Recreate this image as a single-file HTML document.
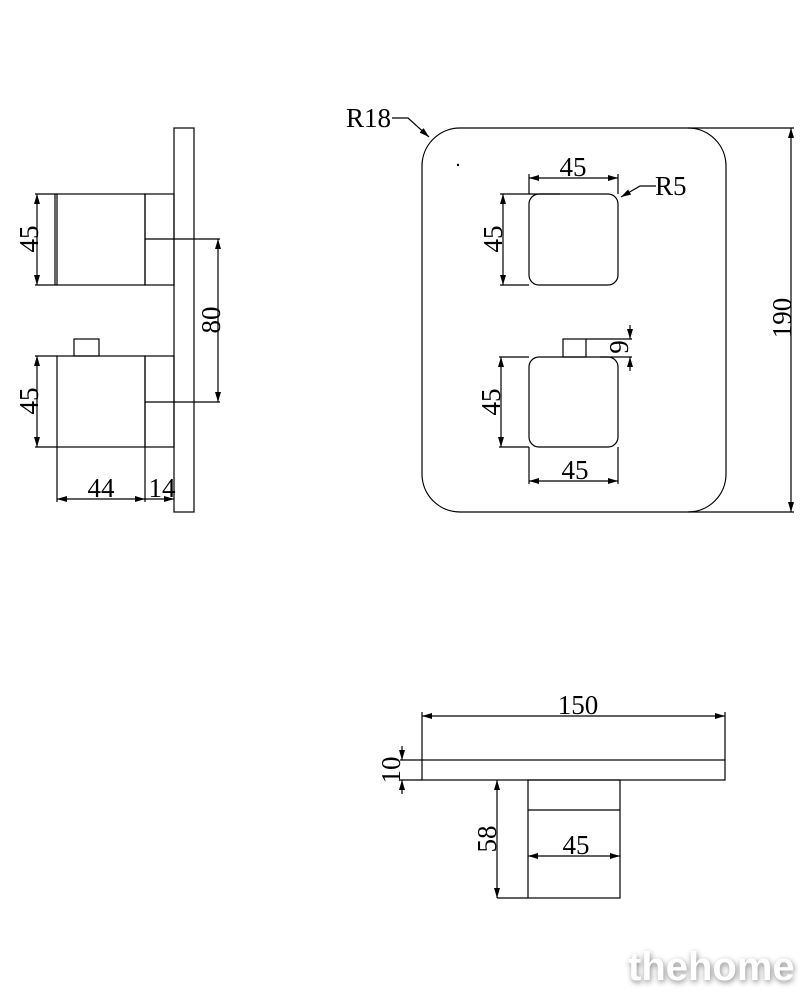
<!DOCTYPE html>
<html><head><meta charset="utf-8"><style>
html,body{margin:0;padding:0;background:#fff;width:811px;height:1000px;overflow:hidden}
svg{display:block}
text{font-family:"Liberation Serif",serif;font-size:27px;fill:#000}
.w{font-family:"Liberation Sans",sans-serif;font-weight:bold;font-size:40px;fill:#fff;filter:drop-shadow(1px 2px 3px #888)}
</style></head><body>
<svg width="811" height="1000" viewBox="0 0 811 1000" xmlns="http://www.w3.org/2000/svg">
<defs>
<marker id="a" viewBox="0 0 10 6" refX="10" refY="3" markerWidth="10" markerHeight="6" orient="auto-start-reverse" markerUnits="userSpaceOnUse"><path d="M0,0L10,3L0,6z" fill="#000"/></marker>
</defs>
<g stroke="#000" stroke-width="1.2" fill="none">
<!-- side view -->
<rect x="174" y="128" width="20" height="384"/>
<rect x="57" y="194" width="88" height="91"/>
<line x1="55" y1="194" x2="55" y2="285"/>
<line x1="35" y1="194" x2="57" y2="194"/><line x1="35" y1="285" x2="57" y2="285"/>
<rect x="145" y="194" width="29" height="91"/>
<rect x="57" y="356" width="88" height="91"/>
<rect x="74" y="339" width="25" height="17"/>
<line x1="35" y1="356" x2="57" y2="356"/><line x1="35" y1="447" x2="57" y2="447"/>
<rect x="145" y="356" width="29" height="91"/>
<line x1="145" y1="239" x2="220" y2="239"/><line x1="145" y1="402" x2="220" y2="402"/>
<line x1="218" y1="239" x2="218" y2="402" marker-start="url(#a)" marker-end="url(#a)"/>
<line x1="37" y1="194" x2="37" y2="285" marker-start="url(#a)" marker-end="url(#a)"/>
<line x1="37" y1="356" x2="37" y2="447" marker-start="url(#a)" marker-end="url(#a)"/>
<line x1="57" y1="447" x2="57" y2="502"/><line x1="145" y1="447" x2="145" y2="502"/>
<line x1="57" y1="499" x2="145" y2="499" marker-start="url(#a)" marker-end="url(#a)"/>
<line x1="145" y1="499" x2="174" y2="499" marker-end="url(#a)"/>
<!-- front view -->
<rect x="422" y="128" width="304" height="384" rx="38"/>
<line x1="688" y1="128" x2="794" y2="128"/><line x1="688" y1="512" x2="794" y2="512"/>
<line x1="791" y1="128" x2="791" y2="512" marker-start="url(#a)" marker-end="url(#a)"/>
<path d="M392,118H408L429,137" marker-end="url(#a)"/>
<rect x="529" y="194" width="89" height="91" rx="10"/>
<line x1="529" y1="194" x2="529" y2="174"/><line x1="618" y1="194" x2="618" y2="174"/>
<line x1="529" y1="178" x2="618" y2="178" marker-start="url(#a)" marker-end="url(#a)"/>
<line x1="500" y1="194" x2="560" y2="194"/><line x1="500" y1="285" x2="529" y2="285"/>
<line x1="503" y1="194" x2="503" y2="285" marker-start="url(#a)" marker-end="url(#a)"/>
<path d="M656,186H640L621,197" marker-end="url(#a)"/>
<rect x="529" y="357" width="89" height="90" rx="10"/>
<rect x="563" y="339" width="23" height="18"/>
<line x1="586" y1="339" x2="632" y2="339"/><line x1="600" y1="357" x2="632" y2="357"/>
<line x1="630" y1="325" x2="630" y2="339" marker-end="url(#a)"/>
<line x1="630" y1="371" x2="630" y2="357" marker-end="url(#a)"/>
<line x1="499" y1="357" x2="529" y2="357"/><line x1="499" y1="447" x2="529" y2="447"/>
<line x1="501" y1="357" x2="501" y2="447" marker-start="url(#a)" marker-end="url(#a)"/>
<line x1="529" y1="447" x2="529" y2="484"/><line x1="618" y1="447" x2="618" y2="484"/>
<line x1="529" y1="481" x2="618" y2="481" marker-start="url(#a)" marker-end="url(#a)"/>
<!-- top view -->
<rect x="422" y="760" width="303" height="20"/>
<line x1="400" y1="760" x2="422" y2="760"/><line x1="400" y1="780" x2="422" y2="780"/>
<line x1="422" y1="760" x2="422" y2="712"/><line x1="725" y1="760" x2="725" y2="712"/>
<line x1="422" y1="716" x2="725" y2="716" marker-start="url(#a)" marker-end="url(#a)"/>
<line x1="402" y1="746" x2="402" y2="760" marker-end="url(#a)"/>
<line x1="402" y1="794" x2="402" y2="780" marker-end="url(#a)"/>
<rect x="528" y="780" width="92" height="118"/>
<line x1="528" y1="810" x2="620" y2="810"/>
<line x1="528" y1="856" x2="620" y2="856" marker-start="url(#a)" marker-end="url(#a)"/>
<line x1="497" y1="780" x2="497" y2="898" marker-start="url(#a)" marker-end="url(#a)"/>
<line x1="497" y1="898" x2="528" y2="898"/>
</g>
<circle cx="458" cy="165" r="1.2" fill="#000"/>
<text x="29" y="239" text-anchor="middle" transform="rotate(-90 29 239)" dy="9">45</text>
<text x="29" y="401" text-anchor="middle" transform="rotate(-90 29 401)" dy="9">45</text>
<text x="211" y="320" text-anchor="middle" transform="rotate(-90 211 320)" dy="9">80</text>
<text x="101" y="497" text-anchor="middle">44</text>
<text x="162" y="497" text-anchor="middle">14</text>
<text x="346" y="127">R18</text>
<text x="573" y="176" text-anchor="middle">45</text>
<text x="655" y="195">R5</text>
<text x="493" y="239" text-anchor="middle" transform="rotate(-90 493 239)" dy="9">45</text>
<text x="491" y="402" text-anchor="middle" transform="rotate(-90 491 402)" dy="9">45</text>
<text x="619" y="347" text-anchor="middle" transform="rotate(-90 619 347)" dy="9">9</text>
<text x="575" y="479" text-anchor="middle">45</text>
<text x="782" y="318" text-anchor="middle" transform="rotate(-90 782 318)" dy="9">190</text>
<text x="578" y="714" text-anchor="middle">150</text>
<text x="391" y="770" text-anchor="middle" transform="rotate(-90 391 770)" dy="9">10</text>
<text x="487" y="839" text-anchor="middle" transform="rotate(-90 487 839)" dy="9">58</text>
<text x="576" y="854" text-anchor="middle">45</text>
<text class="w" x="628" y="980">thehome</text>
</svg>
</body></html>
